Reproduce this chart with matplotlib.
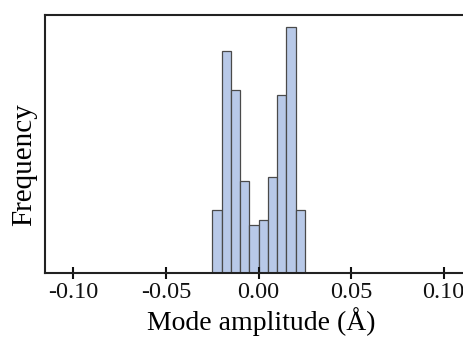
import matplotlib
matplotlib.use("Agg")
import matplotlib.pyplot as plt
import numpy as np

# histogram bins (mode amplitude, Angstrom) and counts
bin_edges = [-0.030, -0.025, -0.020, -0.015, -0.010, -0.005, 0.000,
             0.005, 0.010, 0.015, 0.020, 0.025, 0.030]
counts = [0, 13, 46, 38, 19, 10, 11, 20, 37, 51, 13, 0]
xticks = [-0.10, -0.05, 0.00, 0.05, 0.10]

plt.rcParams['font.family'] = ['Liberation Serif', 'DejaVu Serif']

fig = plt.figure(figsize=(4.64, 3.37), dpi=100)
ax = fig.add_axes([0.097, 0.19, 0.93, 0.765])

edges = np.array(bin_edges)
ax.bar(edges[:-1], counts, width=np.diff(edges), align='edge',
       color='#b8c9e8', edgecolor='#4a4a4a', linewidth=0.9)

xmin = -0.1153
ax.set_xlim(xmin, xmin + 0.93 * 4.64 * 100 / 1852)
ax.set_ylim(0, 53.5)
ax.set_xticks(xticks)
ax.set_xticklabels(["%.2f" % t for t in xticks])
ax.set_yticks([])
ax.tick_params(axis='x', direction='inout', length=9, width=1.5,
               labelsize=17.5, pad=2, colors='#111111')
for s in ax.spines.values():
    s.set_linewidth(1.5)
    s.set_color('#222222')
ax.set_xlabel("Mode amplitude (Å)", fontsize=20, labelpad=3)
ax.set_ylabel("Frequency", fontsize=21)
ax.yaxis.set_label_coords(-0.019, 0.42)

fig.savefig("out.png", dpi=100)
